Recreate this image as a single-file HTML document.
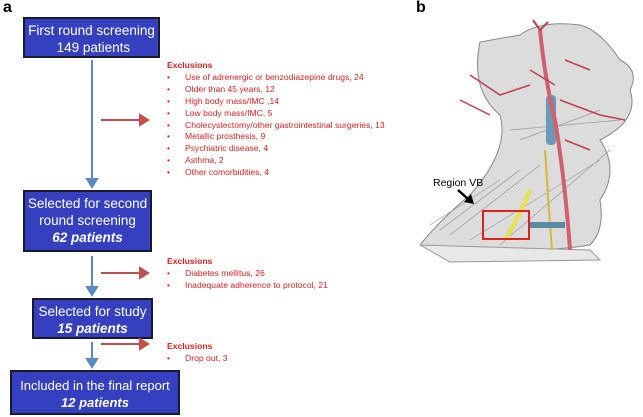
<!DOCTYPE html>
<html><head><meta charset="utf-8"><style>
body{margin:0;width:643px;height:417px;background:#fff;position:relative;overflow:hidden;font-family:"Liberation Sans",sans-serif}
.box{position:absolute;background:#3540c0;border:2px solid #1a1a2a;color:#fff;text-align:center;box-sizing:border-box;font-size:13.5px;line-height:17px;white-space:nowrap}
.box i{font-weight:bold}
.ex{position:absolute;color:#e02020;font-size:8.6px;line-height:11.9px;white-space:nowrap}
.ex b{font-size:8.6px}
.ex div{padding-left:18px;position:relative}
.ex div:before{content:"•";position:absolute;left:0}
.lbl{position:absolute;font-weight:bold;font-size:16px}
</style></head><body>
<div class="lbl" style="left:3px;top:-1px">a</div>
<div class="lbl" style="left:416px;top:-1px">b</div>
<div class="box" style="left:23px;top:17px;width:137px;height:41px;padding-top:3px">First round screening<br>&nbsp;149 patients</div>
<div class="box" style="left:23px;top:190px;width:129px;height:62px;padding-top:3px">Selected for second<br>round screening<br><i>62 patients</i></div>
<div class="box" style="left:32px;top:298px;width:121px;height:41px;padding-top:3px">Selected for study<br><i>15 patients</i></div>
<div class="box" style="left:10px;top:370px;width:170px;height:45px;padding-top:5px;font-size:13px">Included in the final report<br><i>12 patients</i></div>
<svg width="643" height="417" style="position:absolute;left:0;top:0">
<g stroke="#5a8ac6" stroke-width="2" fill="#5a8ac6">
<line x1="92" y1="60" x2="92" y2="180"/><polygon points="87,179 97,179 92,187"/>
<line x1="92" y1="256" x2="92" y2="288"/><polygon points="87,287 97,287 92,295"/>
<line x1="92" y1="342" x2="92" y2="360"/><polygon points="87,359 97,359 92,367"/>
</g>
<g stroke="#c0504d" stroke-width="2" fill="#c0504d">
<line x1="101" y1="120" x2="142" y2="120"/><polygon points="140,115 148,120 140,125"/>
<line x1="101" y1="273" x2="142" y2="273"/><polygon points="140,268 148,273 140,278"/>
<line x1="101" y1="344" x2="142" y2="344"/><polygon points="140,339 148,344 140,349"/>
</g>
<g>
<path d="M480,42 Q470,90 500,115 Q510,150 470,195 Q440,220 420,245 Q450,255 520,250 Q560,250 590,245 Q605,230 600,200 Q620,170 600,140 Q640,120 630,90 Q640,70 620,60 Q600,30 580,25 Q540,20 520,35 Z" fill="#dcdcdc" stroke="#888" stroke-width="1"/>
<path d="M420,245 L590,250 L600,260 L450,262 Z" fill="#e8e8e8" stroke="#999"/>
<g stroke="#999" stroke-width="0.7" fill="none">
<path d="M440,230 L520,170 M450,235 L540,165 M470,240 L600,160 M500,245 L610,150 M430,225 L500,180 M520,140 L600,110 M510,130 L620,120"/>
</g>
<path d="M545,150 Q548,200 552,250" stroke="#d9b830" stroke-width="2" fill="none"/>
<path d="M530,190 Q520,215 505,240" stroke="#e8e060" stroke-width="5" fill="none"/>
<rect x="546" y="95" width="10" height="50" rx="4" fill="#6a9ab5"/>
<path d="M540,30 Q545,80 555,120 Q565,180 570,250" stroke="#d06070" stroke-width="4" fill="none"/>
<path d="M565,60 L590,70 M560,100 L600,115 L625,120 M565,140 L590,150 M470,75 L500,95 L530,85 M460,100 L490,115 M555,85 L530,70" stroke="#c04050" stroke-width="1.5" fill="none"/>
<path d="M540,30 L533,20 M540,30 L548,22" stroke="#c04050" stroke-width="2"/>
<rect x="530" y="222" width="35" height="6" fill="#5a8aa5"/>
</g>
<rect x="483" y="211" width="46" height="28" fill="none" stroke="#e02020" stroke-width="2"/>
<line x1="458" y1="190" x2="468" y2="199" stroke="#000" stroke-width="2.5"/>
<polygon points="464,202 474,204 471,194" fill="#000"/>
<text x="433" y="186" font-size="10.5" font-family="Liberation Sans, sans-serif">Region VB</text>
</svg>
<div class="ex" style="left:167px;top:60px"><b>Exclusions</b>
<div>Use of adrenergic or benzodiazepine drugs, 24</div>
<div>Older than 45 years, 12</div>
<div>High body mass/IMC ,14</div>
<div>Low body mass/IMC, 5</div>
<div>Cholecystectomy/other gastrointestinal surgeries, 13</div>
<div>Metallic prosthesis, 9</div>
<div>Psychiatric disease, 4</div>
<div>Asthma, 2</div>
<div>Other comorbidities, 4</div></div>
<div class="ex" style="left:167px;top:256px"><b>Exclusions</b>
<div>Diabetes mellitus, 26</div>
<div>Inadequate adherence to protocol, 21</div></div>
<div class="ex" style="left:167px;top:341px"><b>Exclusions</b>
<div>Drop out, 3</div></div>
</body></html>
